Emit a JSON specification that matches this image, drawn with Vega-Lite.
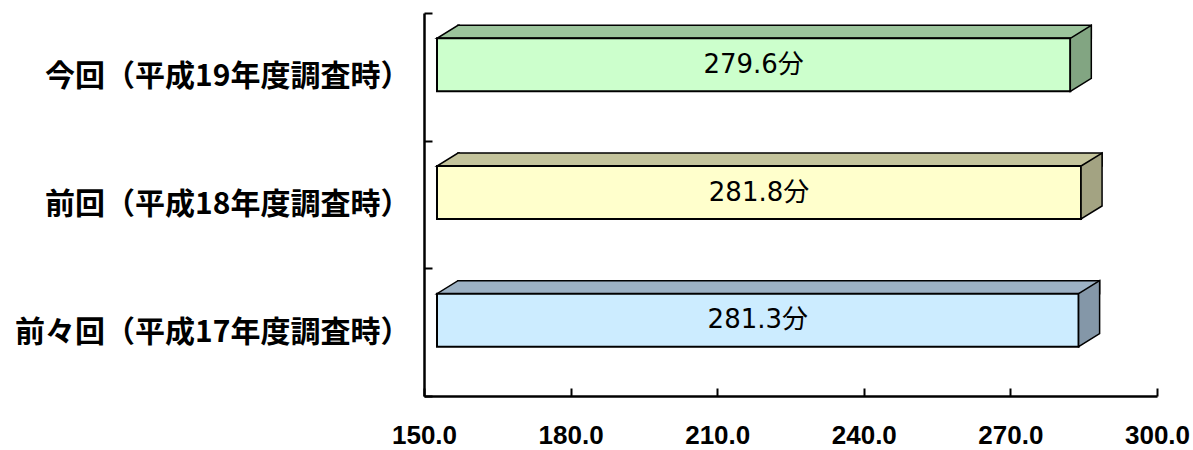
{
  "$schema": "https://vega.github.io/schema/vega-lite/v6.json",
  "width": 733,
  "height": 383,
  "autosize": {"type": "none"},
  "padding": {"left": 424, "top": 13, "right": 36, "bottom": 54},
  "background": "white",
  "config": {"view": {"stroke": null}},
  "data": {
    "values": [
      {"period": "今回（平成19年度調査時）", "minutes": 279.6, "label": "279.6分"},
      {"period": "前回（平成18年度調査時）", "minutes": 281.8, "label": "281.8分"},
      {"period": "前々回（平成17年度調査時）", "minutes": 281.3, "label": "281.3分"}
    ]
  },
  "encoding": {
    "y": {
      "field": "period",
      "type": "nominal",
      "sort": null,
      "scale": {"paddingInner": 0, "paddingOuter": 0},
      "axis": {
        "title": null,
        "domainColor": "black",
        "domainWidth": 2.5,
        "tickColor": "black",
        "tickWidth": 2,
        "tickSize": -8,
        "tickBand": "extent",
        "labelFont": "Noto Sans CJK JP",
        "labelFontWeight": "bold",
        "labelFontSize": 30,
        "labelColor": "black",
        "labelPadding": 22,
        "labelLimit": 500
      }
    }
  },
  "layer": [
    {
      "mark": {"type": "bar", "height": 13, "yOffset": -45, "xOffset": 34, "x2Offset": 34, "stroke": "black", "strokeWidth": 1.5, "opacity": 1},
      "encoding": {
        "x": {
          "field": "minutes",
          "type": "quantitative",
          "scale": {"domain": [150, 300], "nice": false, "zero": false},
          "axis": {
            "title": null,
            "values": [150, 180, 210, 240, 270, 300],
            "format": ".1f",
            "grid": false,
            "domainColor": "black",
            "domainWidth": 2.5,
            "tickColor": "black",
            "tickWidth": 2,
            "tickSize": -8,
            "labelFont": "Liberation Sans",
            "labelFontWeight": "bold",
            "labelFontSize": 26,
            "labelColor": "black",
            "labelPadding": 34,
            "labelFlush": false
          }
        },
        "x2": {"datum": 150},
        "color": {
          "field": "period",
          "type": "nominal",
          "legend": null,
          "scale": {"domain": ["今回（平成19年度調査時）", "前回（平成18年度調査時）", "前々回（平成17年度調査時）"], "range": ["#9CC49C", "#C4C49C", "#9CB1C4"]}
        }
      }
    },
    {
      "mark": {"type": "point", "shape": "M36,-38.5L13,-38.5L34,-51.5L36,-51.5", "size": 4, "filled": true, "opacity": 1, "stroke": "black", "strokeWidth": 1.5},
      "encoding": {
        "x": {"datum": 150, "type": "quantitative"},
        "color": {
          "field": "period",
          "type": "nominal",
          "legend": null,
          "scale": {"domain": ["今回（平成19年度調査時）", "前回（平成18年度調査時）", "前々回（平成17年度調査時）"], "range": ["#9CC49C", "#C4C49C", "#9CB1C4"]}
        }
      }
    },
    {
      "mark": {"type": "bar", "height": 53, "yOffset": -12, "xOffset": 13, "x2Offset": 13, "stroke": "black", "strokeWidth": 2, "opacity": 1},
      "encoding": {
        "x": {"field": "minutes", "type": "quantitative"},
        "x2": {"datum": 150},
        "fill": {
          "field": "period",
          "type": "nominal",
          "legend": null,
          "scale": {"domain": ["今回（平成19年度調査時）", "前回（平成18年度調査時）", "前々回（平成17年度調査時）"], "range": ["#CCFFCC", "#FFFFCC", "#CCECFF"]}
        }
      }
    },
    {
      "mark": {"type": "point", "shape": "M13,-38.5L34,-51.5L34,1.5L13,14.5Z", "size": 4, "filled": true, "opacity": 1, "stroke": "black", "strokeWidth": 1.5},
      "encoding": {
        "x": {"field": "minutes", "type": "quantitative"},
        "fill": {
          "field": "period",
          "type": "nominal",
          "legend": null,
          "scale": {"domain": ["今回（平成19年度調査時）", "前回（平成18年度調査時）", "前々回（平成17年度調査時）"], "range": ["#82A582", "#A3A382", "#8497A8"]}
        }
      }
    },
    {
      "mark": {"type": "text", "font": "DejaVu Sans, Noto Sans CJK JP", "fontSize": 26, "color": "black", "align": "center", "baseline": "middle", "yOffset": -12, "dx": {"expr": "13 + (scale('x', 150) - scale('x', datum.minutes)) / 2"}},
      "encoding": {
        "x": {"field": "minutes", "type": "quantitative"},
        "text": {"field": "label"}
      }
    }
  ],
  "resolve": {"scale": {"color": "independent", "fill": "independent"}}
}
